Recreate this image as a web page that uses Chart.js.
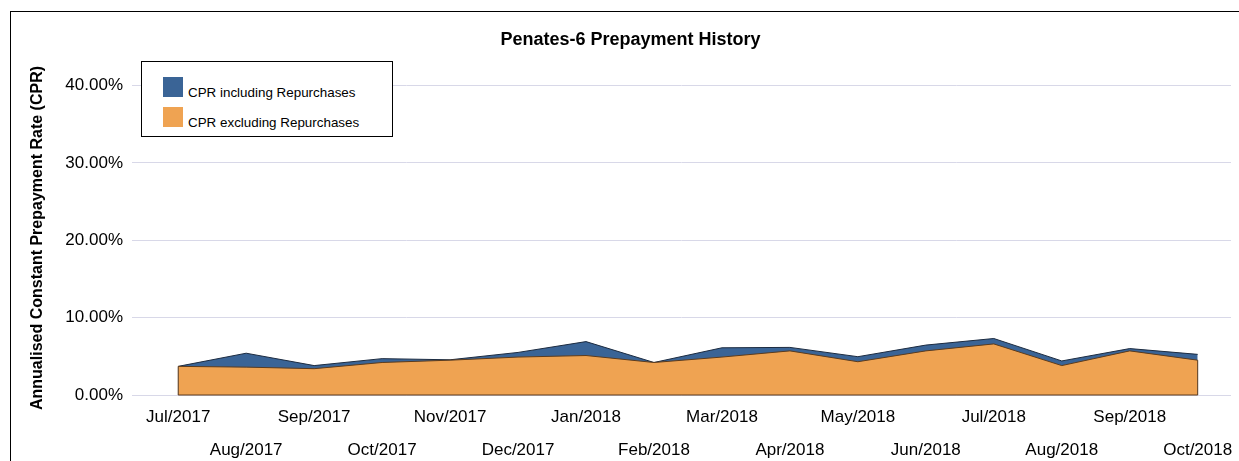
<!DOCTYPE html>
<html>
<head>
<meta charset="utf-8">
<script src="https://cdn.jsdelivr.net/npm/chart.js@4.4.1/dist/chart.umd.min.js"></script>
<style>
  html, body { margin: 0; padding: 0; background: #fff; overflow: hidden; }
  #frame { position: absolute; left: 10px; top: 11px; width: 1300px; height: 500px;
           border-left: 1px solid #000; border-top: 1px solid #000; }
  #wrap { position: absolute; left: 0; top: 0; width: 1239px; height: 461px; }
  #legend { position: absolute; left: 141px; top: 61px; width: 250px; height: 74px;
            border: 1px solid #000; background: #fff;
            font: 13.4px "Liberation Sans", Arial, sans-serif; color: #000; }
  #legend .sw { position: absolute; left: 21px; width: 20px; height: 20px; }
  #legend .tx { position: absolute; left: 46px; line-height: 15px; white-space: nowrap; }
</style>
</head>
<body>
<div id="frame"></div>
<div id="wrap"><canvas id="prepayChart"></canvas></div>
<div id="legend"></div>
<script>
const months = ['Jul/2017', 'Aug/2017', 'Sep/2017', 'Oct/2017', 'Nov/2017', 'Dec/2017', 'Jan/2018', 'Feb/2018',
                'Mar/2018', 'Apr/2018', 'May/2018', 'Jun/2018', 'Jul/2018', 'Aug/2018', 'Sep/2018', 'Oct/2018'];
const cprIncl = [3.7, 5.4, 3.8, 4.7, 4.55, 5.5, 6.9, 4.2, 6.1, 6.15, 4.95, 6.45, 7.3, 4.4, 6.0, 5.25];
const cprExcl = [3.7, 3.6, 3.4, 4.2, 4.5, 4.9, 5.1, 4.2, 4.9, 5.7, 4.3, 5.7, 6.6, 3.8, 5.7, 4.5];
const yTicks = [0, 10, 20, 30, 40];
const seriesNames = ['CPR including Repurchases', 'CPR excluding Repurchases'];
const seriesColors = ['#3a6496', '#efa352'];
const chartTitle = 'Penates-6 Prepayment History';
const yTitle = 'Annualised Constant Prepayment Rate (CPR)';

const FONT = '"Liberation Sans", Arial, sans-serif';
Chart.defaults.font.family = FONT;
Chart.defaults.color = '#000';

// rotated y axis title, sits a bit lower than the plot centre like the original
const yTitlePlugin = {
    id: 'yTitle',
    afterDraw(chart) {
        const c = chart.ctx;
        c.save();
        c.translate(38, 238);
        c.rotate(-Math.PI / 2);
        c.font = 'bold 16px ' + FONT;
        c.textAlign = 'center';
        c.textBaseline = 'middle';
        c.fillStyle = '#000';
        c.fillText(yTitle, 0, 0);
        c.restore();
    }
};

// dark outline on the sides and bottom of the front area
const areaEdges = {
    id: 'areaEdges',
    afterDatasetsDraw(chart) {
        const meta = chart.getDatasetMeta(1);
        const pts = meta.data;
        if (!pts.length) return;
        const base = chart.scales.y.getPixelForValue(0);
        const c = chart.ctx;
        c.save();
        c.strokeStyle = '#5c3b1c';
        c.lineWidth = 1;
        c.beginPath();
        c.moveTo(pts[0].x, pts[0].y);
        c.lineTo(pts[0].x, base);
        c.lineTo(pts[pts.length - 1].x, base);
        c.lineTo(pts[pts.length - 1].x, pts[pts.length - 1].y);
        c.stroke();
        c.restore();
    }
};

const toPoints = vals => vals.map((v, i) => ({ x: i, y: v }));

const ctx = document.getElementById('prepayChart').getContext('2d');
new Chart(ctx, {
    type: 'line',
    data: {
        datasets: [{
            label: seriesNames[0],
            data: toPoints(cprIncl),
            backgroundColor: seriesColors[0],
            borderColor: '#1c2b40',
            borderWidth: 1,
            fill: 'origin',
            pointRadius: 0,
            tension: 0,
            order: 2
        }, {
            label: seriesNames[1],
            data: toPoints(cprExcl),
            backgroundColor: seriesColors[1],
            borderColor: '#5c3b1c',
            borderWidth: 1,
            fill: 'origin',
            pointRadius: 0,
            tension: 0,
            order: 1
        }]
    },
    options: {
        responsive: true,
        maintainAspectRatio: false,
        animation: false,
        devicePixelRatio: 1,
        layout: { padding: { left: 30, right: 8, top: 20, bottom: 0 } },
        plugins: {
            legend: { display: false },
            tooltip: { enabled: true },
            title: {
                display: true,
                text: chartTitle,
                font: { size: 18, weight: 'bold' },
                color: '#000',
                padding: { top: 9, bottom: 0 }
            }
        },
        scales: {
            x: {
                type: 'linear',
                min: -0.68,
                max: 15.49,
                grid: { display: false },
                border: { display: false },
                afterBuildTicks: s => { s.ticks = months.map((m, i) => ({ value: i })); },
                afterFit: s => { s.height = 66; },
                ticks: {
                    autoSkip: false,
                    maxRotation: 0,
                    padding: -2,
                    font: { size: 17, lineHeight: 33 / 17 },
                    callback: v => {
                        const i = Math.round(v);
                        return i % 2 === 0 ? [months[i], ''] : ['', months[i]];
                    }
                }
            },
            y: {
                min: 0,
                max: 44.5,
                afterBuildTicks: s => { s.ticks = yTicks.map(v => ({ value: v })); },
                afterFit: s => { s.width = 102; },
                grid: { color: '#d8d8e8', drawTicks: false },
                border: { display: false },
                ticks: {
                    padding: 9,
                    font: { size: 17 },
                    callback: v => v.toFixed(2) + '%'
                }
            }
        }
    },
    plugins: [yTitlePlugin, areaEdges]
});

// legend box built from the series
const legend = document.getElementById('legend');
seriesNames.forEach((name, i) => {
    const sw = document.createElement('div');
    sw.className = 'sw';
    sw.style.top = (15 + i * 30) + 'px';
    sw.style.background = seriesColors[i];
    const tx = document.createElement('div');
    tx.className = 'tx';
    tx.style.top = (23 + i * 30) + 'px';
    tx.textContent = name;
    legend.appendChild(sw);
    legend.appendChild(tx);
});
</script>
</body>
</html>
